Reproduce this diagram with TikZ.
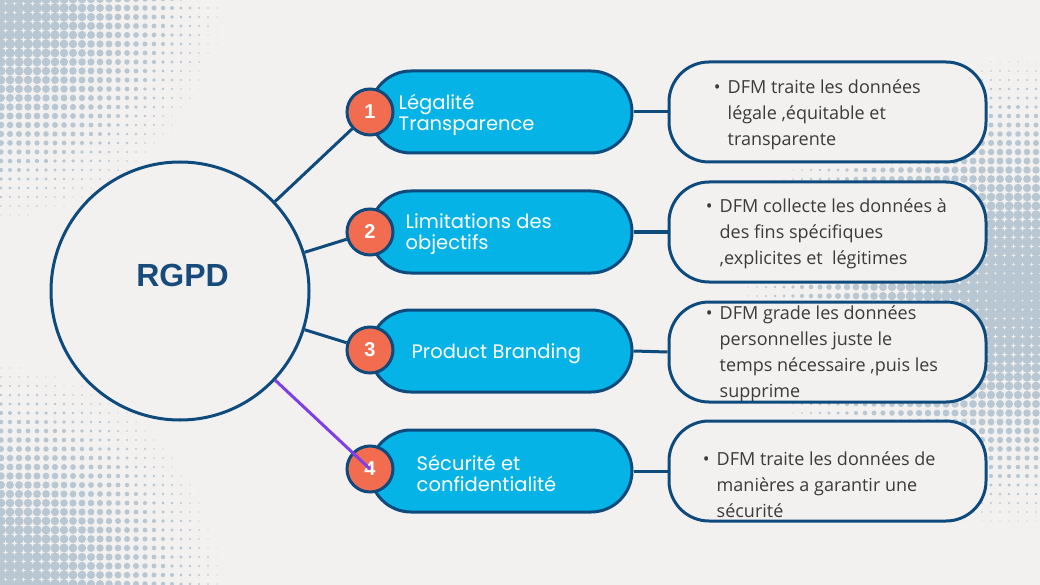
\documentclass[tikz,border=0pt]{standalone}
\usepackage{fontspec}
\setmainfont{Open Sans}
\newfontfamily\popfont{Poppins}
\newfontfamily\libsans{Liberation Sans}
\usetikzlibrary{shapes.misc}
\definecolor{bgc}{HTML}{F2F1F0}
\definecolor{dotc}{HTML}{B8C7D2}
\definecolor{dblue}{HTML}{0E4A7C}
\definecolor{cyanc}{HTML}{06B3E6}
\definecolor{coral}{HTML}{F26D4F}
\definecolor{purp}{HTML}{7F3FE7}
\definecolor{txtc}{HTML}{3D3A38}
\definecolor{rgpdc}{HTML}{164B7C}
\tikzset{
 conn/.style={draw=dblue, line width=3pt},
 bigc/.style={circle, draw=dblue, line width=3pt, fill=bgc, minimum size=258pt, inner sep=0pt},
 pill/.style={rounded rectangle, draw=dblue, line width=3pt, fill=cyanc, minimum width=262pt, minimum height=82pt, inner sep=0pt},
 numc/.style={circle, draw=dblue, line width=3pt, fill=coral, minimum size=46pt, inner sep=0pt, text=white, font=\libsans\bfseries\fontsize{20}{20}\selectfont},
 pilltext/.style={inner sep=0pt, anchor=west, align=left, text=white, font=\popfont\fontsize{19.5}{21}\selectfont},
 descbox/.style={rectangle, rounded corners=40pt, draw=dblue, line width=3pt, fill=bgc, minimum width=317pt, minimum height=100pt},
 desctext/.style={inner sep=0pt, anchor=west, align=left, text=txtc, font=\fontsize{18}{26}\selectfont},
}
\newcommand\bl{\llap{\textbullet\hspace{7pt}}}
\begin{document}
\begin{tikzpicture}[x=1pt,y=-1pt]
\useasboundingbox (0,0) rectangle (1040,585);
\fill[bgc] (0,0) rectangle (1040,585);
% halftone dot patterns
\begin{scope}
\clip (0,0) rectangle (1040,585);
\foreach \cx/\cy/\Rx/\Ry/\ia/\ib/\ja/\jb in {-15/-15/250/250/0/27/0/27, -15/600/250/250/0/27/37/66, 1010/292/280/245/80/116/5/62}{%
 \foreach \ii in {\ia,...,\ib}{%
  \foreach \jj in {\ja,...,\jb}{%
   \pgfmathsetmacro\px{9*\ii+1}%
   \pgfmathsetmacro\py{9*\jj-1}%
   \pgfmathsetmacro\dd{veclen((\px-\cx)/\Rx,(\py-\cy)/\Ry)}%
   \ifdim\dd pt<1pt
     \pgfmathsetmacro\rr{5.8*(1-\dd*sqrt(\dd))}%
     \ifdim\rr pt>0.35pt
       \fill[dotc] (\px,\py) circle[radius=\rr pt];
     \fi
   \fi
  }}}
\end{scope}
% central circle
\node[bigc] (rgpd) at (180,291) {};
\node[font=\libsans\bfseries\fontsize{32}{32}\selectfont, text=rgpdc] (rt) at (182.5,275) {RGPD};
% pills
\node[pill] (p1) at (501,112) {};
\node[pill] (p2) at (501,232) {};
\node[pill] (p3) at (501,351) {};
\node[pill] (p4) at (501,471) {};
\node[pilltext] (l1) at ([xshift=30pt,yshift=-2.5pt]p1.west) {Légalité\\Transparence};
\node[pilltext] (l2) at ([xshift=37pt,yshift=-2.5pt]p2.west) {Limitations des\\objectifs};
\node[pilltext] (l3) at ([xshift=43pt,yshift=-2.5pt]p3.west) {Product Branding};
\node[pilltext] (l4) at ([xshift=48pt,yshift=-2.5pt]p4.west) {Sécurité et\\confidentialité};
% number circles
\node[numc] (n1) at (370,112) {1};
\node[numc] (n2) at (370,232) {2};
\node[numc] (n3) at (370,350) {3};
\node[numc] (n4) at (370,469) {4};
% description boxes
\node[descbox] (b1) at (827.5,112) {};
\node[descbox] (b2) at (827.5,232) {};
\node[descbox] (b3) at (827.5,352) {};
\node[descbox] (b4) at (827.5,471) {};
\node[desctext] (t1) at ([xshift=60pt,yshift=-2.5pt]b1.west) {\bl DFM traite les données\\légale ,équitable et\\transparente};
\node[desctext] (t2) at ([xshift=52pt,yshift=-2pt]b2.west) {\bl DFM collecte les données à\\des fins spécifiques\\,explicites et~ légitimes};
\node[desctext] (t3) at ([xshift=52pt,yshift=-2pt]b3.west) {\bl DFM grade les données\\personnelles juste le\\temps nécessaire ,puis les\\supprime};
\node[desctext] (t4) at ([xshift=49pt,yshift=-13.5pt]b4.west) {\bl DFM traite les données de\\manières a garantir une\\sécurité};
% connectors
\draw[conn] (rgpd) -- (n1);
\draw[conn] (rgpd) -- (n2);
\draw[conn] (rgpd) -- (n3);
\draw[conn] (p1.east) -- (b1.west);
\draw[conn] (p2.east) -- (b2.west);
\draw[conn] (p3.east) -- (b3.west);
\draw[conn] (p4.east) -- (b4.west);
\draw[draw=purp, line width=3pt] (rgpd) -- (n4.center);
\end{tikzpicture}
\end{document}
